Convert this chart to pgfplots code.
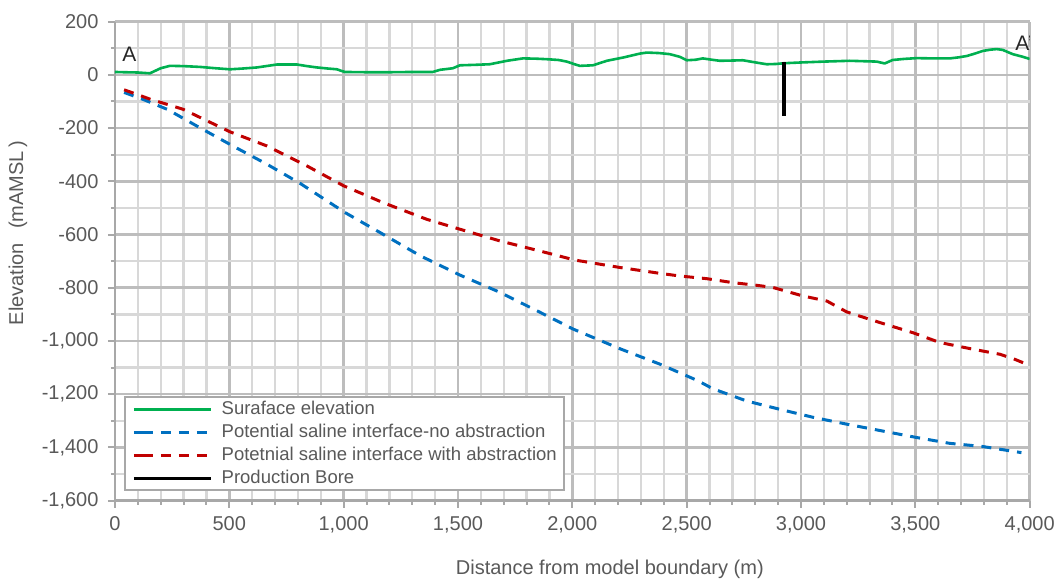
\documentclass[border=0pt]{standalone}
\usepackage{pgfplots}
\pgfplotsset{compat=1.18}
\usepackage{fontspec}
\setmainfont{Liberation Sans}

\definecolor{surfgreen}{HTML}{00B050}
\definecolor{noabsblue}{HTML}{0070C0}
\definecolor{absred}{HTML}{C00000}
\definecolor{majgrid}{HTML}{BDBDBD}
\definecolor{mingrid}{HTML}{D8D8D8}
\definecolor{axgray}{HTML}{A8A8A8}
\definecolor{txtgray}{HTML}{595959}
\definecolor{leggray}{HTML}{A8A8A8}

\begin{document}
\begin{tikzpicture}
\begin{axis}[
    scale only axis,
    width=915pt, height=479pt,
    xmin=0, xmax=4000, ymin=-1600, ymax=200,
    xtick distance=500, ytick distance=200,
    minor x tick num=4, minor y tick num=1,
    grid=both,
    major grid style={draw=majgrid, line width=2.6pt},
    minor grid style={draw=mingrid, line width=2.4pt},
    axis lines=left,
    axis line style={draw=axgray, line width=2.2pt, -},
    tick align=outside,
    major tick length=7pt, minor tick length=4pt,
    tick style={draw=axgray, line width=2pt},
    ticklabel style={font=\fontsize{20}{24}\selectfont, text=txtgray},
    xticklabel style={yshift=-5pt},
    yticklabel style={xshift=-6pt},
    /pgf/number format/assume math mode=true,
    /pgf/number format/1000 sep={,},
    xlabel={Distance from model boundary (m)},
    ylabel={Elevation\hspace{0.7em}(mAMSL\hspace{0.2em})},
    xlabel style={at={(rel axis cs:0.541,-0.144)}, anchor=center,
        font=\fontsize{20}{24}\selectfont, text=txtgray},
    ylabel style={at={(rel axis cs:-0.106,0.559)}, anchor=center,
        font=\fontsize{20}{24}\selectfont, text=txtgray},
    legend style={at={(rel axis cs:0.0098,0.019)}, anchor=south west,
        draw=leggray, line width=2pt, fill=white,
        inner xsep=7pt, inner ysep=3pt,
        column sep=9pt, row sep=5pt,
        font=\fontsize{18.5}{22}\selectfont, text=txtgray,
        nodes={inner sep=0pt, text height=14pt, text depth=4pt}},
    legend cell align=left,
    legend image code/.code={
        \path (-9pt,0pt) -- (0pt,0pt);
        \draw[#1] (0pt,0pt) -- (68pt,0pt);},
]
% surface elevation
\addplot[surfgreen, line width=2.6pt, line join=round] coordinates {
(0,11)(40,10)(100,9)(153,6)(175,15)(200,25)(240,34)(300,33)(372,30)(440,25)
(503,21)(560,24)(621,28)(708,39)(760,39)(796,39)(840,33)(883,28)(930,24)(971,21)
(990,15)(1006,11)(1100,10)(1200,10)(1300,11)(1390,11)(1421,19)(1478,25)(1508,36)
(1580,38)(1639,40)(1714,53)(1784,62)(1840,61)(1889,59)(1940,56)(1976,50)(2010,40)
(2033,34)(2090,36)(2151,53)(2221,65)(2295,80)(2326,84)(2380,82)(2426,78)(2470,68)
(2501,55)(2540,57)(2571,62)(2610,57)(2645,53)(2700,54)(2746,55)(2800,47)(2850,40)
(2890,41)(2929,44)(3008,47)(3100,50)(3213,53)(3331,50)(3366,43)(3401,56)(3450,60)
(3506,63)(3580,62)(3651,62)(3690,66)(3725,71)(3760,80)(3795,90)(3830,95)(3856,97)
(3882,94)(3926,78)(3970,68)(4000,60)};
\addlegendentry{Suraface elevation}
% saline interface, no abstraction
\addplot[noabsblue, line width=3pt, dash pattern=on 10pt off 8pt] coordinates {
(40,-66)(120,-91)(230,-130)(370,-198)(515,-267)(665,-336)(810,-408)(1005,-517)
(1160,-593)(1335,-680)(1510,-753)(1685,-818)(1860,-893)(2005,-956)(2210,-1030)
(2385,-1088)(2550,-1150)(2615,-1180)(2763,-1226)(2907,-1257)(3052,-1287)
(3200,-1313)(3505,-1363)(3650,-1385)(3795,-1397)(3964,-1420)};
\addlegendentry{Potential saline interface-no abstraction}
% saline interface, with abstraction
\addplot[absred, line width=3pt, dash pattern=on 10pt off 8pt] coordinates {
(40,-56)(153,-91)(297,-129)(503,-214)(664,-267)(839,-342)(1000,-417)(1172,-480)
(1364,-543)(1508,-580)(1683,-624)(1858,-662)(2011,-696)(2208,-724)(2383,-746)
(2470,-756)(2588,-766)(2702,-781)(2807,-791)(2877,-799)(3008,-831)(3113,-850)
(3200,-891)(3345,-931)(3489,-969)(3607,-1006)(3751,-1031)(3869,-1050)(3926,-1066)
(4000,-1092)};
\addlegendentry{Potetnial saline interface with abstraction}
% production bore
\addplot[black, line width=3.8pt] coordinates {(2925,48)(2925,-155)};
\addlegendentry{Production Bore}

\node[anchor=west, inner sep=0pt, font=\fontsize{21}{24}\selectfont, text=black!85]
    at (axis cs:31,76) {A};
\node[anchor=center, inner sep=0pt, font=\fontsize{21}{24}\selectfont, text=black!85]
    at (axis cs:3975,117) {A\textquoteright};

\coordinate (bbsw) at (rel axis cs:-0.1257,-0.1711);
\coordinate (bbne) at (rel axis cs:1.0306,1.0453);
\end{axis}
\path (bbsw) rectangle (bbne);
\end{tikzpicture}
\end{document}
